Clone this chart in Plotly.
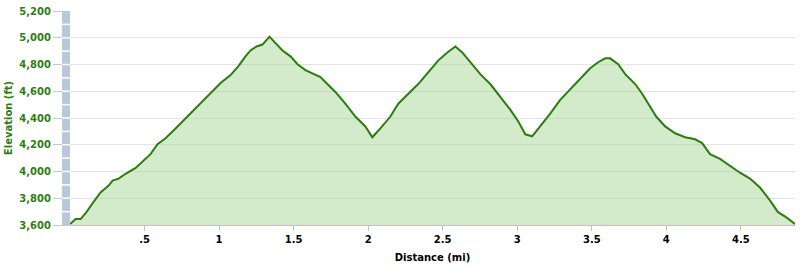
import plotly.graph_objects as go

distance_mi = [0.0, 0.038, 0.071, 0.105, 0.151, 0.205, 0.259, 0.286, 0.326, 0.373,
               0.440, 0.493, 0.540, 0.587, 0.641, 0.708, 0.775, 0.842, 0.909, 0.962,
               1.010, 1.077, 1.130, 1.177, 1.211, 1.251, 1.291, 1.338, 1.378, 1.425,
               1.479, 1.526, 1.579, 1.646, 1.680, 1.713, 1.780, 1.847, 1.914, 1.981,
               2.028, 2.082, 2.149, 2.202, 2.269, 2.336, 2.404, 2.471, 2.531, 2.585,
               2.631, 2.685, 2.752, 2.819, 2.886, 2.953, 3.007, 3.054, 3.100, 3.154,
               3.221, 3.288, 3.355, 3.422, 3.489, 3.543, 3.590, 3.623, 3.677, 3.724,
               3.791, 3.838, 3.891, 3.932, 3.992, 4.059, 4.126, 4.193, 4.240, 4.293,
               4.360, 4.427, 4.494, 4.561, 4.628, 4.695, 4.749, 4.803, 4.863]
elevation_ft = [3607, 3644, 3644, 3688, 3762, 3844, 3895, 3932, 3947, 3983,
                4027, 4079, 4130, 4204, 4248, 4322, 4396, 4477, 4551, 4610,
                4662, 4721, 4788, 4861, 4905, 4935, 4949, 5008, 4964, 4905,
                4861, 4802, 4758, 4721, 4706, 4669, 4595, 4507, 4411, 4337,
                4256, 4322, 4411, 4507, 4581, 4654, 4743, 4831, 4890, 4935,
                4890, 4817, 4728, 4654, 4558, 4462, 4374, 4278, 4263, 4337,
                4433, 4536, 4617, 4691, 4772, 4817, 4846, 4846, 4802, 4728,
                4654, 4581, 4485, 4411, 4337, 4286, 4256, 4241, 4212, 4130,
                4094, 4042, 3991, 3947, 3880, 3784, 3696, 3659, 3607]

y_ticks = [3600, 3800, 4000, 4200, 4400, 4600, 4800, 5000, 5200]
y_tick_labels = ["3,600", "3,800", "4,000", "4,200", "4,400", "4,600", "4,800", "5,000", "5,200"]
x_ticks = [0.5, 1, 1.5, 2, 2.5, 3, 3.5, 4, 4.5]
x_tick_labels = [".5", "1", "1.5", "2", "2.5", "3", "3.5", "4", "4.5"]
stripe_levels = list(range(3600, 5300, 100))

fig = go.Figure()
fig.add_trace(go.Scatter(
    x=distance_mi, y=elevation_ft, mode="lines",
    line=dict(color="#2b7d0f", width=2),
    fill="tozeroy", fillcolor="rgba(160,210,140,0.45)",
    hoverinfo="skip", showlegend=False,
))

shapes = [dict(type="rect", xref="paper", yref="y", x0=-0.011, x1=0.0,
               y0=3600, y1=5200, fillcolor="#b8c7da", line=dict(width=0), layer="above")]
for lv in stripe_levels[1:-1]:
    shapes.append(dict(type="line", xref="paper", yref="y", x0=-0.011, x1=0.0,
                       y0=lv, y1=lv, line=dict(color="#ffffff", width=1.5), layer="above"))
fig.update_layout(shapes=shapes)

fig.update_layout(
    width=800, height=269,
    margin=dict(l=70, r=5, t=8, b=44),
    paper_bgcolor="white", plot_bgcolor="white",
    font=dict(family="DejaVu Sans", size=10),
    xaxis=dict(range=[0, 4.863], tickvals=x_ticks, ticktext=x_tick_labels,
               showgrid=False, zeroline=False, showline=True, linecolor="#c0c0c0",
               ticks="outside", ticklen=5, tickcolor="#c0c0c0",
               tickfont=dict(family="DejaVu Sans", size=10, color="#000000", weight="bold"),
               title=dict(text="<b>Distance (mi)</b>", standoff=9,
                          font=dict(family="DejaVu Sans", size=10, color="#000000"))),
    yaxis=dict(range=[3600, 5200], tickvals=y_ticks, ticktext=y_tick_labels,
               showgrid=True, gridcolor="#e4e4e4", zeroline=False, showline=False,
               ticks="outside", ticklen=16, tickcolor="#c8c8c8",
               tickfont=dict(family="DejaVu Sans", size=10, color="#2e7d10", weight="bold"),
               title=dict(text="<b>Elevation (ft)</b>", standoff=4,
                          font=dict(family="DejaVu Sans", size=10, color="#2e7d10"))),
)

fig.write_html("out.html")
